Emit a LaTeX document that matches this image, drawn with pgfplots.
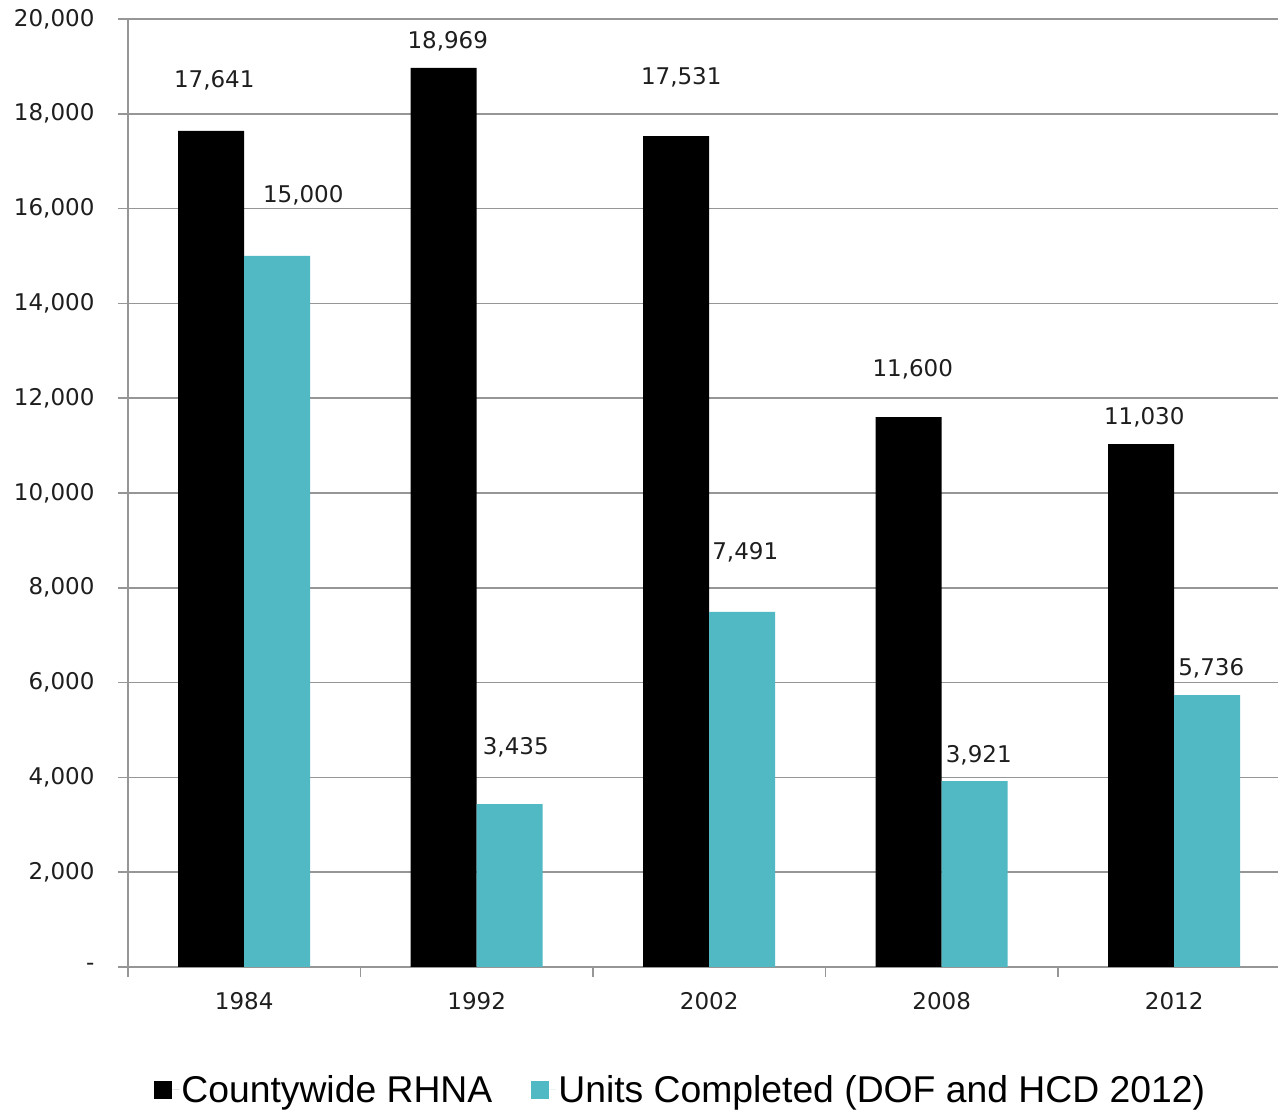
\documentclass[border=0pt]{standalone}
\usepackage{pgfplots}
\usepackage{pgfplotstable}
\pgfplotsset{compat=1.18}
\usepackage{fontspec}
\setmainfont{DejaVu Sans}
\newfontfamily\legfont{Liberation Sans}
\definecolor{tealbar}{RGB}{80,185,196}
\definecolor{gridgray}{RGB}{150,150,150}
\definecolor{txt}{RGB}{30,30,30}

\pgfplotstableread{
x y dx dy
0 17641 3 51
1 18969 4 27
2 17531 5 59
3 11600 4 48
4 11030 3 27
}\rhna
\pgfplotstableread{
x y dx dy
0 15000 26 61
1 3435 6 57
2 7491 3 60
3 3921 4 26
4 5736 4 27
}\units

\begin{document}
\begin{tikzpicture}
\path[use as bounding box] (-128pt,-144pt) rectangle (1150pt,967pt);
\begin{axis}[
  at={(0,0)}, anchor=south west,
  scale only axis,
  width=1162.5pt, height=948pt,
  xmin=-0.5, xmax=4.5,
  ymin=0, ymax=20000,
  ybar, bar width=66pt,
  axis x line*=bottom, axis y line*=left,
  axis line style={gridgray, line width=1.5pt, -},
  tick align=outside,
  major tick length=10pt,
  tick style={gridgray, line width=1.5pt},
  xtick={-0.5,0.5,...,4.5},
  xticklabels={},
  extra x ticks={0,1,2,3,4},
  extra x tick labels={1984,1992,2002,2008,2012},
  extra x tick style={tick style={draw=none}, tick label style={yshift=-12pt}},
  ytick={0,2000,...,20000},
  yticklabels={-,{2,000},{4,000},{6,000},{8,000},{10,000},{12,000},{14,000},{16,000},{18,000},{20,000}},
  y tick label style={xshift=-20pt},
  ymajorgrids,
  grid style={gridgray, line width=1.5pt},
  tick label style={font=\fontsize{23}{27}\selectfont, text=txt},
  nodes near coords={\pgfmathprintnumber[assume math mode=true,fixed,precision=0,1000 sep={,}]{\pgfplotspointmeta}},
  every node near coord/.append style={font=\fontsize{23}{27}\selectfont, text=txt, anchor=center},
  legend style={at={(0.4755,-0.1297)}, anchor=center, draw=none, fill=none,
    legend columns=2, font=\legfont\fontsize{37.3}{41}\selectfont,
    /tikz/every even column/.append style={column sep=37pt}},
  legend image code/.code={\fill[#1] (0pt,-9pt) rectangle (18pt,9pt); \path (18pt,0pt) -- (25pt,0pt);},
]
\addplot[fill=black, draw=none, forget plot, bar shift=-33pt,
  visualization depends on={\thisrow{dx}\as\mydx},
  visualization depends on={\thisrow{dy}\as\mydy},
  every node near coord/.append style={xshift=\mydx pt, yshift=\mydy pt}]
  table[x=x,y=y] {\rhna};
\addplot[fill=tealbar, draw=none, forget plot, bar shift=33pt,
  visualization depends on={\thisrow{dx}\as\mydx},
  visualization depends on={\thisrow{dy}\as\mydy},
  every node near coord/.append style={xshift=\mydx pt, yshift=\mydy pt}]
  table[x=x,y=y] {\units};
\addlegendimage{fill=black, draw=none}
\addlegendentry{Countywide RHNA}
\addlegendimage{fill=tealbar, draw=none}
\addlegendentry{Units Completed (DOF and HCD 2012)}
\end{axis}
\end{tikzpicture}
\end{document}
